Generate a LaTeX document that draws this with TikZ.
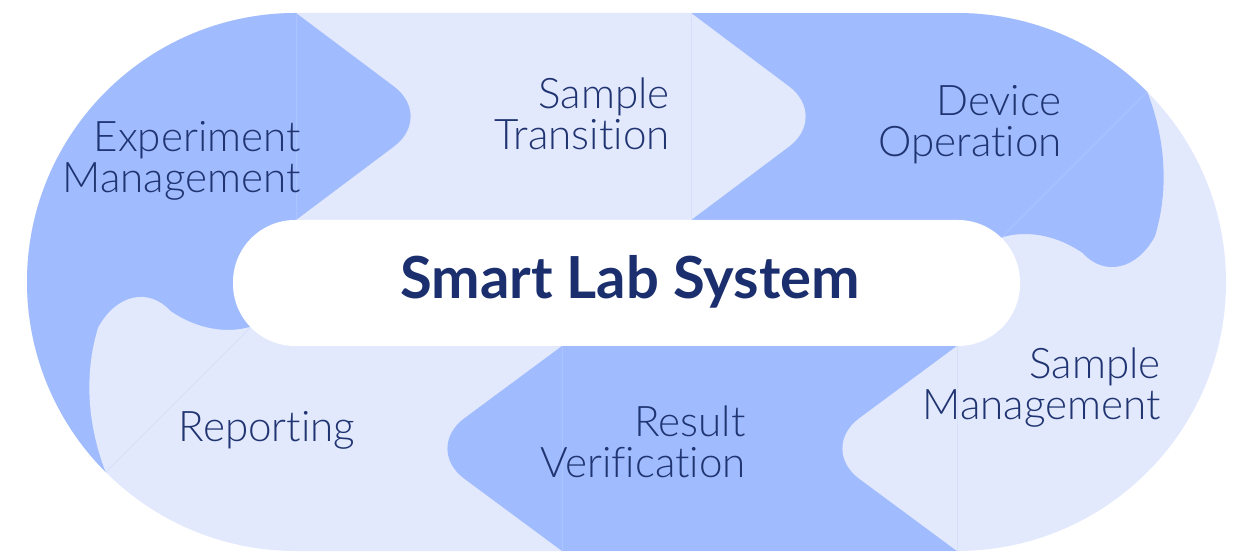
\documentclass[tikz,border=0pt]{standalone}
\usepackage{fontspec}
\setmainfont{Lato}
\newfontfamily\lightfont{Lato Light}[Ligatures={NoCommon}]
\usetikzlibrary{calc}
\definecolor{dk}{HTML}{A1BCFE}
\definecolor{lt}{HTML}{E3E9FD}
\definecolor{ink}{HTML}{1F3471}
\definecolor{ttl}{HTML}{1B2F6E}
\definecolor{sepdk}{HTML}{ABC3FE}
\definecolor{seplt}{HTML}{D6E0FB}
\begin{document}
\begin{tikzpicture}[x=0.02cm,y=0.02cm,
  lbl/.style={font=\lightfont\fontsize{24}{23.9}\selectfont, text=ink, inner sep=0pt, align=right, anchor=base east},
  ttlstyle/.style={font=\fontsize{33}{36}\selectfont\bfseries, text=ttl, inner sep=0pt, anchor=base},
  pill/.style={fill=white, rounded corners=35.4pt},
  sep/.style={line width=0.5pt}]
\useasboundingbox (0,0) rectangle (1257,551);
% base stadium (light)
\fill[lt] (296,0) -- (957,0) arc[start angle=-90,end angle=90,radius=269] -- (296,538) arc[start angle=90,end angle=270,radius=269] -- cycle;
% segment A: Experiment Management (dark)
\fill[dk] (296,269) -- (296,538) arc[start angle=90,end angle=225,radius=269] -- cycle;
\fill[dk] (296,538) -- (394,464.5) .. controls (416.1,447.9) and (416.1,421.1) .. (394,404.5) -- (296,331) -- cycle;
% segment C: Device Operation (dark)
\fill[dk] (691,331) rectangle (957,538);
\fill[dk] (957,269) -- (957,538) arc[start angle=90,end angle=45,radius=269] -- cycle;
\coordinate (rc) at (957,269);
\coordinate (bT) at ($(rc)+(-5:166)$);
\coordinate (bO) at ($(rc)+(13:203.08)$);
\coordinate (bI) at ($(rc)+(13:128.92)$);
\fill[dk] plot[domain=0:0.64,samples=30,variable=\s] ({957+(269-103*\s)*cos(45-50*\s)},{269+(269-103*\s)*sin(45-50*\s)})
  .. controls ($(bO)!0.5523!(bT)$) and ($(bI)!0.5523!(bT)$) .. (bI)
  -- plot[domain=0.64:0,samples=30,variable=\s] ({957+(63+103*\s)*cos(45-50*\s)},{269+(63+103*\s)*sin(45-50*\s)}) -- cycle;
% chevron B -> C (light)
\fill[lt] (691,538) -- (789,464.5) .. controls (811.1,447.9) and (811.1,421.1) .. (789,404.5) -- (691,331) -- cycle;
% segment E: Result Verification (dark)
\fill[dk] (562,0) rectangle (957,205);
% chevron D -> E (light)
\fill[lt] (957,205) -- (859,132.5) .. controls (836.9,115.9) and (836.9,89.1) .. (859,72.5) -- (957,0) -- cycle;
% chevron E -> F (dark)
\fill[dk] (562,205) -- (464,132.5) .. controls (441.9,115.9) and (441.9,89.1) .. (464,72.5) -- (562,0) -- cycle;
% bulge F -> A (light)
\coordinate (lc) at (296,269);
\coordinate (fT) at ($(lc)+(175:166)$);
\coordinate (fO) at ($(lc)+(193:203.08)$);
\coordinate (fI) at ($(lc)+(193:128.92)$);
\fill[lt] plot[domain=0:0.64,samples=30,variable=\s] ({296+(269-103*\s)*cos(225-50*\s)},{269+(269-103*\s)*sin(225-50*\s)})
  .. controls ($(fO)!0.5523!(fT)$) and ($(fI)!0.5523!(fT)$) .. (fI)
  -- plot[domain=0.64:0,samples=30,variable=\s] ({296+(63+103*\s)*cos(225-50*\s)},{269+(63+103*\s)*sin(225-50*\s)}) -- cycle;
% faint segment boundaries
\draw[sep,sepdk] (296,331) -- (296,538);
\draw[sep,seplt] (691,331) -- (691,538);
\draw[sep,seplt] (957,0) -- (957,205);
\draw[sep,sepdk] (562,0) -- (562,205);
\draw[sep,sepdk] ($(rc)+(45:63)$) -- ($(rc)+(45:269)$);
\draw[sep,seplt] ($(lc)+(225:63)$) -- ($(lc)+(225:269)$);
% centre pill
\fill[pill] (233,205) rectangle (1020,331);
% labels (anchor = baseline of last line)
\node[lbl] (expm) at (301,358) {Experiment\\Management};
\node[lbl] (samt) at (670,401) {Sample\\Transition};
\node[lbl] (devo) at (1062,394) {Device\\Operation};
\node[lbl] (samm) at (1161,131) {Sample\\Management};
\node[lbl] (resv) at (746,73) {Result\\Verification};
\node[font=\lightfont\fontsize{24}{23.9}\selectfont, text=ink, inner sep=0pt, anchor=base] (repo) at (267,110) {Reporting};
\node[ttlstyle] (title) at (630,252) {Smart Lab System};
\end{tikzpicture}
\end{document}
